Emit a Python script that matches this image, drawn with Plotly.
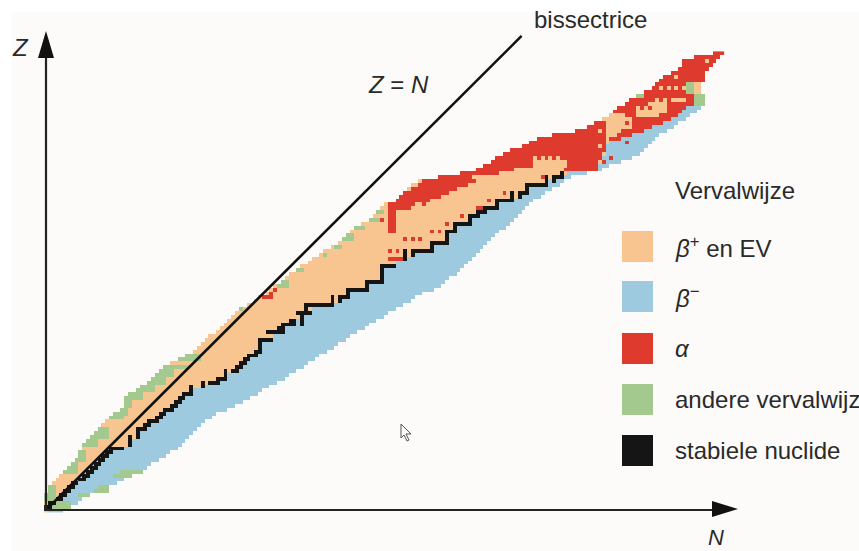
import numpy as np
import plotly.graph_objects as go

W, H = 859, 551
PX_N, PX_Z = 3.82, 3.87      # axis scale: pixels per nucleon
X0, Y0 = 46.0, 510.0         # pixel of N=0, Z=0

left_edge = [0,0,0,0,0,1,1,2,3,4,5,6,7,8,9,9,10,10,11,12,13,14,15,16,17,18,20,21,21,21,22,24,25,27,28,29,30,31,33,35,37,39,40,41,42,43,45,46,47,48,49,50,52,53,55,56,58,59,60,62,63,64,66,67,69,70,72,73,75,77,78,79,80,81,83,85,86,87,88,89,92,93,94,95,96,98,103,109,113,115,117,118,120,122,125,127,129,133,139,142,144,146,148,149,151,152,153,155,157,159,160,161,162,164,166,167,167,170,175]
right_edge = [4,6,8,9,11,14,16,18,20,22,24,26,27,29,31,32,34,35,36,37,38,39,40,41,43,44,47,49,51,53,55,56,58,60,62,63,65,67,68,70,71,73,75,76,78,79,81,83,84,86,88,89,91,93,95,96,98,101,103,104,105,107,108,109,110,111,112,113,114,115,116,117,118,120,121,122,123,124,125,126,127,129,130,132,134,135,137,141,145,147,150,153,155,156,157,158,159,160,162,164,165,167,168,170,171,172,172,171,171,171,171,171,172,172,173,174,175,176,177]
split_n = [0,1,2,4,5,6,7,8,10,11,12,13,14,15,16,17,20,22,22,24,24,26,27,29,30,31,33,34,35,36,37,38,41,45,47,47,50,51,52,53,55,56,56,56,59,59,62,62,65,65,67,69,69,75,77,79,79,84,84,88,88,88,88,91,91,94,96,101,101,101,105,105,107,107,111,111,113,115,118,118,122,124,126,126,131,131,135,136,136,144,145,145,146,146,146,147,150,153,156,158,160,163,165,166,167,170,172,171,171,171,171,171,172,172,173,174,175,176,177]

stable_cells = [(1,0,1),(2,1,2),(3,3,4),(4,4,5),(5,5,6),(6,6,7),(7,7,8),(8,9,10),(9,10,11),(10,11,12),(11,12,13),(12,13,14),(13,14,15),(14,15,16),(15,16,17),(16,17,20),(17,22,22),(18,22,22),(19,22,22),(19,24,24),(20,24,24),(21,24,26),(22,26,27),(23,27,29),(24,29,30),(25,30,31),(26,31,33),(27,33,34),(28,34,35),(29,35,36),(30,36,37),(30,38,38),(31,38,38),(32,38,38),(32,41,41),(33,41,41),(33,43,45),(34,45,47),(35,47,47),(36,47,47),(36,49,50),(37,50,51),(38,51,52),(39,52,53),(40,53,55),(41,55,56),(42,56,56),(43,56,56),(44,56,59),(46,58,62),(47,61,62),(48,62,65),(49,64,65),(48,67,67),(49,67,67),(50,67,67),(51,66,69),(52,68,68),(53,68,75),(54,75,75),(55,75,75),(54,77,77),(55,77,79),(56,79,79),(57,79,84),(58,84,84),(59,84,88),(60,88,88),(61,88,88),(62,88,88),(63,88,91),(65,94,94),(66,94,94),(67,94,94),(66,96,96),(67,96,101),(68,101,101),(69,101,105),(70,105,105),(71,105,105),(72,105,107),(73,107,107),(74,107,111),(75,111,111),(76,111,113),(77,113,115),(78,115,118),(79,118,118),(80,118,122),(81,122,122),(82,122,122),(81,124,124),(82,124,126),(83,126,126),(84,126,131),(85,131,131),(86,131,131),(86,133,135),(85,133,133),(87,135,135)]

green_cells = [(3,0,2),(4,0,2),(5,1,2),(6,1,2),(10,5,8),(11,6,8),(12,7,8),(13,8,10),(14,9,10),(15,9,10),(17,10,13),(18,11,13),(19,12,16),(20,13,16),(21,14,16),(24,17,20),(25,18,21),(26,20,21),(27,21,22),(28,21,22),(29,21,25),(30,22,25),(31,24,28),(32,25,28),(33,27,31),(34,28,31),(35,29,33),(36,30,33),(37,31,37),(39,35,40),(40,37,40),
 (1,2,6),(2,3,6),(4,9,11),(5,13,16),(6,14,16),(9,18,22),(10,20,25),
 (52,51,51),(58,61,63),(59,62,63),(62,66,67),(66,73,73),(68,76,77),(70,78,80),(71,79,80),(73,81,83),(75,85,87),(77,87,88),(79,90,91),(81,93,94),(83,97,98),
 (110,160,161),(109,160,160),(107,170,172),(106,170,172),(105,170,172),(108,168,169),(109,168,169),(110,168,169),(107,155,156)]

red_cells = [(55,57,59),(56,59,59),(57,60,60),(72,90,91),(73,90,91),(74,90,91),(75,90,91),(76,90,91),(77,90,91),(78,90,95),(79,90,96),(80,92,100),(81,93,103),(82,94,105),(83,96,107),(84,98,110),(85,99,112),(86,103,111),(87,109,118),(88,113,122),(88,136,144),(89,115,127),(89,137,144),(90,117,127),(90,137,144),(91,118,127),(91,129,129),(91,131,131),(91,133,133),(91,135,145),(92,120,145),(93,122,146),(94,125,146),(95,127,146),(96,129,146),(97,133,146),(98,139,146),(99,142,146),(100,144,146),
 (96,149,150),(97,150,153),(98,151,156),(99,154,158),(100,154,160),(101,154,163),(102,152,154),(102,161,165),(103,150,154),(103,163,166),(104,150,154),(104,163,167),(105,152,157),(105,163,169),(106,153,159),(106,168,169),(107,157,169),(108,157,167),(109,159,167),(110,160,167),(111,161,172),(112,162,172),(113,164,172),(114,166,173),(115,167,174),(116,167,175),(117,170,176),(118,175,177),
 (75,88,88),(67,90,90),(67,92,92),(70,94,94),(70,96,96),(70,98,98),(72,101,101),(72,103,103),(74,105,105),(76,109,109),(78,113,113),(79,95,95),(79,99,99),(81,101,101),(65,90,94),(63,90,90),(82,120,120),(78,114,114),(80,116,116),(86,130,130),(96,148,148),(100,152,152),(95,152,152),(98,156,156),(100,161,161),(91,148,148),(90,146,146),(103,149,149),(104,158,158),(104,156,156),(106,161,161),(106,163,163)]

orange_cells = [(94,145,145),(98,145,145),(116,173,173),(112,165,165),(109,161,161),(109,163,163),(109,165,165),(109,167,167),(108,170,171),(109,170,171),(110,170,171),(101,147,153)]

legend_labels = ["<i>β</i><sup>+</sup> en EV", "<i>β</i><sup>−</sup>", "<i>α</i>", "andere vervalwijz", "stabiele nuclide"]
legend_colors = ["#f8c48f", "#9dcade", "#df3a2e", "#a4c98f", "#151515"]
legend_y_px = [246.5, 296.5, 348.5, 399.5, 450.5]
bisector_n = [0, 124.5]
bisector_z = [0, 122.5]

nz, nn = len(left_edge), 178
grid = np.full((nz, nn), np.nan)
for z in range(nz):
    grid[z, left_edge[z]:split_n[z] + 1] = 1
    grid[z, split_n[z] + 1:right_edge[z] + 1] = 2
def paint(cells, value):
    for z, a, b in cells:
        grid[z, a:b + 1] = value
paint(green_cells, 4)
paint(red_cells, 3)
paint(orange_cells, 1)
paint(stable_cells, 5)

scale = []
for i, c in enumerate(legend_colors):
    scale += [[i / 5, c], [(i + 1) / 5, c]]

fig = go.Figure()
fig.add_trace(go.Heatmap(z=grid, x=list(range(nn)), y=list(range(nz)), zmin=0.5, zmax=5.5,
                         colorscale=scale, showscale=False, hoverinfo="skip"))
fig.add_trace(go.Scatter(x=bisector_n, y=bisector_z, mode="lines",
                         line=dict(color="#111111", width=2.6), hoverinfo="skip", showlegend=False))

def px(x): return x / W
def py(y): return 1 - y / H
def path(pts):
    return "M " + " L ".join(f"{px(x):.5f},{py(y):.5f}" for x, y in pts) + " Z"

shapes = [dict(type="rect", xref="paper", yref="paper", x0=px(12), x1=1, y0=0, y1=py(12),
               fillcolor="#fcfbfa", line_width=0, layer="below"),
          dict(type="line", xref="paper", yref="paper", x0=px(46), x1=px(46), y0=py(511), y1=py(50),
               line=dict(color="#222222", width=2.2)),
          dict(type="line", xref="paper", yref="paper", x0=px(44), x1=px(720), y0=py(510), y1=py(510),
               line=dict(color="#222222", width=2.2)),
          dict(type="path", xref="paper", yref="paper", path=path([(46, 31), (54, 58), (38, 58)]),
               fillcolor="#111111", line_width=0),
          dict(type="path", xref="paper", yref="paper", path=path([(738, 509), (712, 501), (712, 517)]),
               fillcolor="#111111", line_width=0),
          dict(type="path", xref="paper", yref="paper",
               path=path([(401, 424), (401, 438), (404, 435), (407, 441), (409, 440), (406, 434), (411, 434)]),
               fillcolor="#fcfbfa", line=dict(color="#555555", width=1))]
for c, y in zip(legend_colors, legend_y_px):
    shapes.append(dict(type="rect", xref="paper", yref="paper", x0=px(622), x1=px(653),
                       y0=py(y + 15.5), y1=py(y - 15.5), fillcolor=c, line_width=0))

FONT = "Liberation Sans, Arial, sans-serif"
def txt(x, y, s, size=24, color="#2a2a2a"):
    return dict(x=px(x - 2), y=py(y), xref="paper", yref="paper", text=s, showarrow=False,
                xanchor="left", yanchor="middle", font=dict(family=FONT, size=size, color=color))
ann = [txt(12, 47, "<i>Z</i>"), txt(368, 84, "<i>Z</i> = <i>N</i>"),
       txt(534, 20, "bissectrice"), txt(708, 537, "<i>N</i>", 22), txt(675, 191, "Vervalwijze")]
for s, y in zip(legend_labels, legend_y_px):
    ann.append(txt(675, y, s))

fig.update_layout(width=W, height=H, margin=dict(l=0, r=0, t=0, b=0),
                  paper_bgcolor="#ffffff", plot_bgcolor="rgba(0,0,0,0)", showlegend=False,
                  xaxis=dict(visible=False, range=[(0 - X0) / PX_N, (W - X0) / PX_N]),
                  yaxis=dict(visible=False, range=[(Y0 - H) / PX_Z, Y0 / PX_Z]),
                  shapes=shapes, annotations=ann)
fig.write_html("out.html", config=dict(displayModeBar=False),
               post_script="document.body.style.margin='0';document.body.style.overflow='hidden';")
